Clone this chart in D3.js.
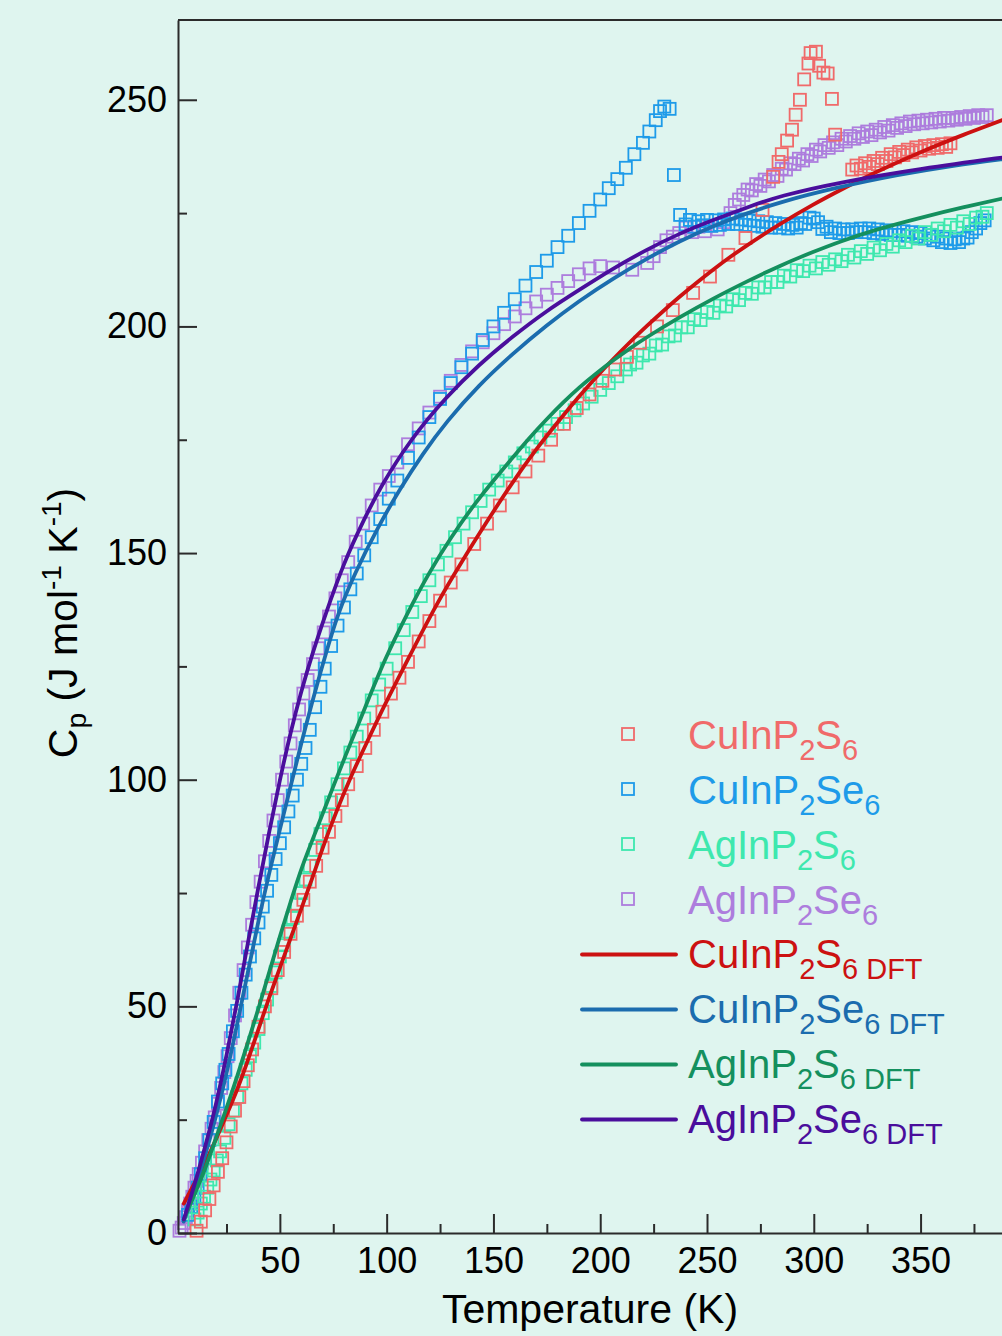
<!DOCTYPE html>
<html>
<head>
<meta charset="utf-8">
<script src="https://cdn.jsdelivr.net/npm/d3@7"></script>
<style>
  body { margin: 0; background: #dff5ef; }
  svg { display: block; }
  text { font-family: "Liberation Sans", Arial, Helvetica, sans-serif; }
</style>
</head>
<body>
<svg width="1002" height="1336"></svg>
<script>
// ---- data: [T (K), Cp (J mol-1 K-1)] ----
const cuS_exp = [[11,0.5],[13,2.5],[15,5],[17,7.5],[19,10.5],[21,13.5],[23,16.5],[25,20],[27,23.5],[29,27],[31,30],[33,33.5],[35,37],[37,40.5],[40,45.5],[43,50],[46,54],[49,58],[52,62],[55,66],[58,70],[61,73.5],[64,77.5],[67,81],[70,85],[73,88.5],[76,92],[79,95.5],[82,99],[86,103],[90,107],[94,111],[98,115],[102,119],[106,122.5],[110,126],[115,130.5],[120,135],[125,139.5],[130,143.5],[135,147.5],[141,152],[147,156.5],[153,160.5],[159,164.5],[165,168],[171,171.5],[177,175],[183,178.5],[189,182],[195,185],[201,188],[207,190.5],[212.5,193.3],[218.6,196.4],[226.6,200],[234,203.6],[243.5,207.4],[251.4,211],[260,215.8],[268,219.5],[276,225.7],[281,233],[283.5,236.3],[285,238],[287.5,241],[289.8,243.4],[291.5,246.7],[293.5,250],[295.5,254.5],[297.5,258],[298.5,260.3],[301,260.6],[302.5,257.5],[304.5,256],[306.5,255.8],[308.5,250.2],[310,242.3],[318,234.6],[320,235.5],[322,234.8],[324,236],[326,235.2],[328,236.5],[330,235.8],[332,237.2],[334,236.5],[336,238],[338,237.3],[340,238.5],[342,237.8],[344,239],[346,238.4],[348,239.5],[350,238.8],[352,239.8],[354,239.2],[356,240],[358,239.4],[360,240.2],[362,239.6],[364,240.4]];

const cuSe_exp = [[7,4],[8.5,5.8],[10,7.8],[11.5,10],[13,13],[15,16.5],[17,20.5],[19,24.5],[21,29],[23,33],[24.5,36],[26,39.5],[28,44.5],[30,49],[32,53],[34,57],[36,61],[38,65],[40,68.5],[42,72],[44,75.5],[46,79],[48,82.5],[50,86],[52,89.5],[54,93],[56,96.5],[58,100],[60,103.5],[62,107],[64,111],[66.5,116],[69,120.5],[71,124.5],[74,129.5],[77,134],[80,138],[83,142],[86,145.5],[89.5,149.5],[93,153.5],[97,157.5],[101,162],[105,166],[110,171],[115,175.5],[120,180],[125,184],[130,187.5],[135,191],[140,194],[145,197],[150,200],[155,203],[160,206],[165,209],[170,212],[175,214.5],[180,217.5],[185,220],[190,222.8],[195,225.5],[200,228],[204,230.5],[208,232.5],[212,235],[216,238],[220,240.5],[223,243],[226,245.5],[228,247.5],[230,248.5],[232.5,248],[234.5,233.4],[237.4,224.6],[240,222.5],[242,223.5],[244,222],[246,223.2],[248,222.3],[250,223.5],[252,222.2],[254,223.4],[256,222.4],[258,223.6],[260,222.6],[262,223.8],[264,222.6],[266,223.6],[268,222.4],[270,223.4],[272,222.2],[274,223.2],[276,222],[278,223],[280,221.8],[282,222.8],[284,221.8],[286,222.6],[288,221.6],[290,222.4],[292,221.8],[294,222.8],[296,222.6],[298,224],[300,223.8],[302,223],[304,221.5],[306,222],[308,220.8],[310,221.6],[312,220.6],[314,221.4],[316,220.6],[318,221.4],[320,220.8],[322,221.6],[324,220.8],[326,221.6],[328,220.6],[330,221.4],[332,220.4],[334,221.2],[336,220.2],[338,221],[340,220.2],[342,221],[344,220],[346,220.8],[348,219.8],[350,220.6],[352,219.4],[354,220.2],[356,219],[358,219.8],[360,218.6],[362,219.4],[364,218.4],[366,219.2],[368,218.6],[370,219.4],[372,219.6],[374,220.8],[376,221.6],[378,222.8],[380,223.4]];

const agS_exp = [[10,3],[11.5,4.5],[13,6.5],[14.5,8],[16,10],[17.5,11.8],[19,13.8],[20.5,16],[22,18],[24,21],[26,24],[28,27],[30,30],[32,33],[34,36],[36,39],[38,42],[40,45],[42,48.5],[44,51.5],[46,54.5],[48,57.5],[50,61],[52,63.5],[54,66.5],[56,69.5],[58,72.5],[60,75],[62,78],[64,81],[66.5,84.5],[69,88],[71.5,91.5],[74,95],[77,99],[80,102.5],[83,106],[86,109.5],[89.5,113.5],[93,117.5],[96.5,121],[100,124.5],[104,129],[108,133],[112,137],[116,140.5],[120,144],[124,147.5],[128,150.5],[132,153.5],[136,156.5],[140,159],[144,161.5],[148,164],[152,166],[156,168],[160,170],[164,172],[168,173.5],[172,175.5],[176,177],[180,178.5],[184,180],[188,181.5],[192,183],[196,184.5],[200,186],[204,187.5],[208,189],[212,190.5],[214,191.6],[217,192],[220,193.6],[223,194],[226,195.8],[229,196],[232,197.8],[235,198],[238,199.8],[241,199.8],[244,201.6],[247,201.4],[250,203.2],[253,203],[256,204.6],[259,204.4],[262,206],[265,205.8],[268,207.4],[271,207.2],[274,208.6],[277,208.6],[280,209.8],[283,209.8],[286,211.2],[289,211],[292,212.4],[295,212.2],[298,213.4],[301,212.8],[304,214.2],[307,213.6],[310,214.8],[313,214.4],[316,215.8],[319,215.2],[322,216.6],[325,216],[328,217.4],[331,216.8],[334,218.2],[337,217.6],[340,219],[343,218.6],[346,220],[349,219.4],[352,220.8],[355,220.2],[358,221.6],[361,221],[364,222.4],[367,221.8],[370,223.2],[373,222.6],[376,224],[379,224.2],[381,225]];

const agSe_exp = [[3,0.5],[4,1.2],[5,2.2],[6,3.5],[7,5],[8,6.5],[9,8],[10,10],[11,11.5],[12,13],[13.5,15.5],[15,18],[16.5,20.5],[18,23],[19.5,25.5],[21,28.5],[22.5,32],[24,35.5],[25.5,39],[27,43],[29,48],[31,53],[33,58],[35,63],[37,68],[39,73],[41,77.5],[43,82],[45,86.5],[47,91],[49,95.5],[51,100],[53,104],[55,108],[57,112],[59,115.5],[61,119],[63,122],[65.5,125.5],[68,129],[70.5,132.5],[73,136],[76,140],[79,144],[82,148],[85.5,152.5],[89,156.5],[93,160.5],[97,164],[101,167],[105,170],[110,174],[115,177.5],[120,181],[125,184.5],[130,188],[135,191.5],[140,194.5],[145,196.5],[150,198.5],[155,200.5],[160,202.2],[165,204],[170,205.5],[175,207],[180,208.5],[185,210],[190,211.5],[195,212.8],[200,213.3],[206,213],[215,212.5],[222,214],[225,215.5],[228,217.5],[231,219],[234,219.8],[237,220.6],[240,221.8],[243,220.8],[246,222],[249,221],[252,222.2],[255,221.4],[258,223],[261,225],[263,226.8],[265,228],[267,229],[269,230.2],[271,230],[273,231.4],[275,231],[277,232.4],[279,232],[281,233.4],[283,233.2],[285,234.8],[287,234.6],[289,236],[291,235.8],[293,237],[295,236.6],[297,238],[299,237.6],[301,239],[303,238.6],[305,240],[307,239.4],[309,240.6],[311,240],[313,241.4],[315,240.8],[317,242],[319,241.4],[321,242.6],[323,241.8],[325,243],[327,242.2],[329,243.4],[331,242.8],[333,244],[335,243.2],[337,244.4],[339,243.8],[341,244.8],[343,244.2],[345,245.2],[347,244.6],[349,245.4],[351,244.8],[353,245.6],[355,245],[357,245.8],[359,245.2],[361,246],[363,245.4],[365,246],[367,245.6],[369,246.2],[371,245.8],[373,246.4],[375,246],[377,246.6],[379,246.2],[381,246.6]];

// DFT curves
const cuS_dft = [[5,6.5],[10,11],[15,15.5],[20,20.5],[25,26],[30,31.5],[35,38],[40,45],[45,52],[50,58.5],[55,65],[60,71.5],[65,78],[70,85],[76,92.5],[83,100.5],[90,107.5],[99,116.5],[111,127.5],[123,138.5],[135,148],[147,157],[158,165],[170,173],[182,180],[190,184.5],[198,188.8],[206,192.8],[214,196.6],[222,200.2],[230,203.6],[237,206.5],[245,209.6],[253,212.6],[261,215.4],[269,218],[284,222.6],[300,227],[312,230],[330,234.3],[350,238.5],[370,242.3],[392,246.2]];
const cuSe_dft = [[5,2.5],[10,9.5],[15,17],[20,25.5],[25,35],[30,46],[35,57.5],[40,69],[45,79.5],[50,89],[55,98.5],[60,108],[65,117],[71,127],[77,136.5],[85,145.5],[96,155.8],[106,164],[117,172],[128,179],[143,187],[159,194],[175,200.3],[190,205.6],[206,210.6],[222,215],[237,218.8],[253,222.2],[269,225],[284,227.4],[310,230.6],[340,233.5],[365,235.5],[392,237.1]];
const agS_dft = [[5,3],[10,8.5],[15,14],[19,19.5],[25,27.5],[30,34.5],[35,42],[40,49.5],[45,57.5],[50,65.5],[55,73],[60,80.5],[68,90],[75,98.5],[80,104.5],[90,116],[99,126.5],[110,137],[119,145],[130,153.5],[143,162],[150,166],[158,170.5],[166,175],[175,179.6],[183,183.4],[190,186.5],[198,189.6],[206,192.5],[214,195.2],[222,197.7],[237,202],[253,206.2],[269,210],[284,213.4],[300,216.5],[312,218.7],[330,221.5],[350,224],[370,226.3],[392,228.6]];
const agSe_dft = [[5,3],[10,10.5],[15,19],[20,28],[25,39],[30,51],[35,64],[40,76.5],[45,88.5],[50,100],[55,110.5],[60,119.5],[65,127.5],[71,136],[80,148],[90,158],[97,164.5],[111,175],[128,184.5],[143,191.5],[159,197.8],[175,203.5],[190,208],[206,212.8],[222,217],[237,220.5],[253,223.5],[269,226.3],[284,228.8],[312,231.8],[350,234.8],[392,237.5]];

const yMajor = [0, 50, 100, 150, 200, 250];
const yMinor = [25, 75, 125, 175, 225];
const xMajor = [50, 100, 150, 200, 250, 300, 350];
const xMinor = [25, 75, 125, 175, 225, 275, 325, 375];

const series = [
  {name: ["CuInP", "2", "S", "6"],  data: cuS_exp,  color: "#f06a6a"},
  {name: ["CuInP", "2", "Se", "6"], data: cuSe_exp, color: "#1e9be9"},
  {name: ["AgInP", "2", "S", "6"],  data: agS_exp,  color: "#3ee8ae"},
  {name: ["AgInP", "2", "Se", "6"], data: agSe_exp, color: "#ad7ddd"}
];
const fits = [
  {name: ["CuInP", "2", "S", "6 DFT"],  data: cuS_dft,  color: "#cc1111"},
  {name: ["CuInP", "2", "Se", "6 DFT"], data: cuSe_dft, color: "#1b6cae"},
  {name: ["AgInP", "2", "S", "6 DFT"],  data: agS_dft,  color: "#14905e"},
  {name: ["AgInP", "2", "Se", "6 DFT"], data: agSe_dft, color: "#4a0e9c"}
];

let svg = d3.select("svg");
const plotLeft = 178, plotRight = 1006, plotTop = 20, plotBottom = 1233;

const x = d3.scaleLinear().domain([2.3, 390]).range([plotLeft, plotRight]);
const y = d3.scaleLinear().domain([0, 267.6]).range([plotBottom, plotTop]);

const plot = svg.append("g");

// experimental points: open squares (purple first so the others sit on top)
const drawOrder = [3, 1, 2, 0];
drawOrder.forEach(function (i) {
  const s = series[i];
  plot.append("g")
    .selectAll("rect")
    .data(s.data)
    .enter().append("rect")
    .attr("x", function (d) { return x(d[0]) - 6; })
    .attr("y", function (d) { return y(d[1]) - 6; })
    .attr("width", 12)
    .attr("height", 12)
    .attr("fill", "none")
    .attr("stroke", s.color)
    .attr("stroke-width", 1.8);
});

// DFT lines (smoothed through the read points)
const line = d3.line()
  .x(function (d) { return x(d[0]); })
  .y(function (d) { return y(d[1]); })
  .curve(d3.curveBasis);

fits.forEach(function (f) {
  plot.append("path")
    .datum(f.data)
    .attr("d", line)
    .attr("fill", "none")
    .attr("stroke", f.color)
    .attr("stroke-width", 3.8)
    .attr("stroke-linecap", "round");
});

// axes
function styleAxis(g) {
  g.selectAll("path, line").attr("stroke", "#2b2b2b").attr("stroke-width", 2);
  g.selectAll("text").attr("fill", "#000").attr("font-size", 36)
    .attr("font-family", "'Liberation Sans', Arial, sans-serif");
}

svg.append("g")
  .attr("transform", "translate(" + plotLeft + ",0)")
  .call(d3.axisLeft(y).tickValues(yMajor).tickSize(-19).tickSizeOuter(0).tickPadding(11))
  .call(styleAxis);
svg.append("g")
  .attr("transform", "translate(" + plotLeft + ",0)")
  .call(d3.axisLeft(y).tickValues(yMinor).tickSize(-9).tickSizeOuter(0).tickFormat(""))
  .call(styleAxis)
  .select(".domain").remove();

svg.append("g")
  .attr("transform", "translate(0," + plotBottom + ")")
  .call(d3.axisBottom(x).tickValues(xMajor).tickSize(-19).tickSizeOuter(0).tickPadding(14))
  .call(styleAxis);
svg.append("g")
  .attr("transform", "translate(0," + plotBottom + ")")
  .call(d3.axisBottom(x).tickValues(xMinor).tickSize(-9).tickSizeOuter(0).tickFormat(""))
  .call(styleAxis)
  .select(".domain").remove();

// top frame line
svg.append("line")
  .attr("x1", plotLeft).attr("x2", 1002).attr("y1", plotTop).attr("y2", plotTop)
  .attr("stroke", "#2b2b2b").attr("stroke-width", 2);

// axis titles
svg.append("text")
  .attr("x", 590).attr("y", 1323)
  .attr("text-anchor", "middle")
  .attr("font-size", 41)
  .text("Temperature (K)");

const yt = svg.append("text")
  .attr("transform", "translate(77,623) rotate(-90)")
  .attr("text-anchor", "middle")
  .attr("font-size", 41);
yt.append("tspan").text("C");
yt.append("tspan").attr("font-size", 28).attr("dy", 9).text("p");
yt.append("tspan").attr("dy", -9).text(" (J mol");
yt.append("tspan").attr("font-size", 28).attr("dy", -16).text("-1");
yt.append("tspan").attr("dy", 16).text(" K");
yt.append("tspan").attr("font-size", 28).attr("dy", -16).text("-1");
yt.append("tspan").attr("dy", 16).text(")");

// legend
const legend = svg.append("g");
const rowY = [749, 804, 859, 914, 968, 1023, 1078, 1133];

function legendLabel(g, parts, color, baseY) {
  const t = g.append("text")
    .attr("x", 688).attr("y", baseY)
    .attr("font-size", 40)
    .attr("fill", color);
  t.append("tspan").text(parts[0]);
  t.append("tspan").attr("font-size", 29).attr("dy", 11).text(parts[1]);
  t.append("tspan").attr("dy", -11).text(parts[2]);
  t.append("tspan").attr("font-size", 29).attr("dy", 11).attr("xml:space", "preserve").text(parts[3]);
}

series.forEach(function (s, i) {
  legend.append("rect")
    .attr("x", 622).attr("y", rowY[i] - 21)
    .attr("width", 12).attr("height", 12)
    .attr("fill", "none").attr("stroke", s.color).attr("stroke-width", 1.8);
  legendLabel(legend, s.name, s.color, rowY[i]);
});

fits.forEach(function (f, i) {
  const yy = rowY[i + 4] - 13.5;
  legend.append("line")
    .attr("x1", 582).attr("x2", 676).attr("y1", yy).attr("y2", yy)
    .attr("stroke", f.color).attr("stroke-width", 3.8).attr("stroke-linecap", "round");
  legendLabel(legend, f.name, f.color, rowY[i + 4]);
});
</script>
</body>
</html>
